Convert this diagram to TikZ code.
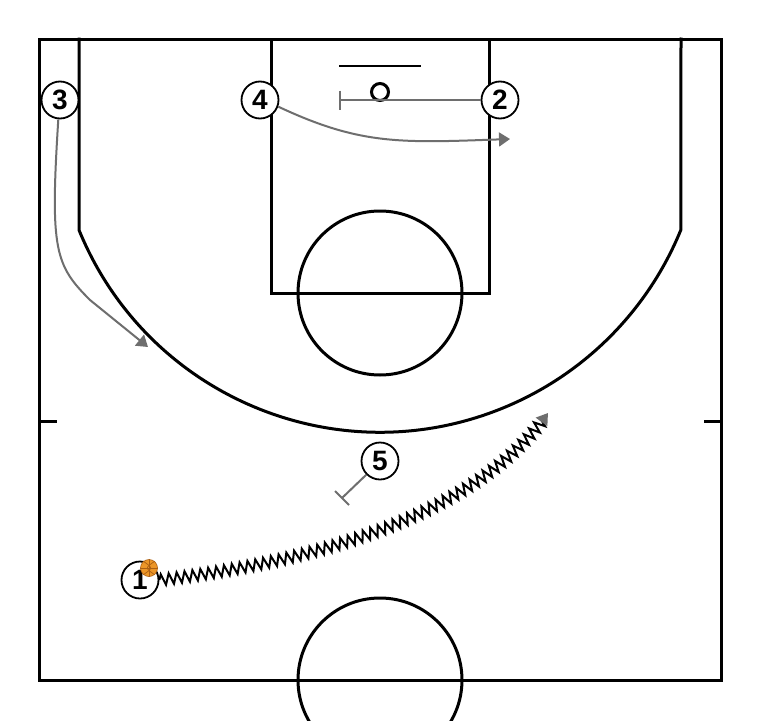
\documentclass[tikz,border=0pt]{standalone}
\usepackage{fontspec}
\setmainfont{Liberation Sans}
\usetikzlibrary{arrows.meta,decorations.pathmorphing}
\definecolor{mygray}{RGB}{110,110,110}
\definecolor{ballorange}{RGB}{236,150,40}
\definecolor{ballseam}{RGB}{170,95,20}
\tikzset{
  court/.style={line width=3pt, line cap=rect},
  player/.style={circle, draw, line width=1.8pt, fill=white, minimum size=37pt, inner sep=0pt,
    font=\fontsize{28}{30}\selectfont\bfseries},
  cut/.style={draw=mygray, line width=2pt, -{Triangle[length=11pt,width=14pt,color=mygray]}},
  screen/.style={draw=mygray, line width=2pt},
  dribble/.style={draw=black, line width=2pt,
    decoration={zigzag, segment length=8pt, amplitude=5.5pt, post length=10pt},
    decorate, -{Triangle[length=11pt,width=14pt,color=mygray]}},
}
\begin{document}
\begin{tikzpicture}[x=1pt,y=1pt]
\useasboundingbox (0,0) rectangle (760,-720);
\clip (0,0) rectangle (760,-720);
\fill[white] (0,0) rectangle (760,-720);
% court
\draw[court] (39,-39) rectangle (721,-680);
\draw[court] (39,-421) -- (55,-421);
\draw[court] (721,-421) -- (705,-421);
\draw[court] (79,-39) -- (79,-230) arc[start angle=202.2, end angle=337.8, radius=325] -- (681,-39);
\draw[court] (271,-39) rectangle (489,-293);
\draw[court] (380,-293) circle[radius=82];
\draw[court] (380,-680) circle[radius=82];
\draw[line width=2pt] (339,-66) -- (421,-66);
\draw[line width=3pt] (380,-92) circle[radius=8.5];
% players
\node[player] (p3) at (60,-100) {3};
\node[player] (p4) at (260,-100) {4};
\node[player] (p2) at (500,-100) {2};
\node[player] (p5) at (380,-461) {5};
\node[player] (p1) at (140,-580) {1};
% screens
\coordinate (s2) at (340,-100);
\draw[screen] (p2.west) -- (s2);
\draw[screen] ([yshift=9.5pt]s2) -- ([yshift=-9.5pt]s2);
\coordinate (s5) at (342,-498);
\draw[screen] (p5.225) -- (s5);
\draw[screen] ([shift={(-7,7)}]s5) -- ([shift={(7,-7)}]s5);
% cuts
\coordinate (e4) at (510,-139);
\draw[cut] (p4.-20) .. controls (360,-145) and (400,-143) .. (e4);
\coordinate (m3) at (90,-300);
\coordinate (e3) at (148,-347);
\draw[cut] (p3.-95) .. controls (50,-250) and (55,-265) .. (m3) -- (e3);
% dribble
\coordinate (e1) at (548,-413);
\draw[dribble] (p1.east) .. controls (330,-560) and (480,-510) .. (e1);
% ball
\node[circle, fill=ballorange, draw=ballseam, line width=0.6pt, minimum size=17pt, inner sep=0pt] (ball) at (149,-568) {};
\draw[ballseam, line width=0.7pt] (ball.north) -- (ball.south);
\draw[ballseam, line width=0.7pt] (ball.west) -- (ball.east);
\draw[ballseam, line width=0.7pt] (ball.130) .. controls ([xshift=4pt]ball.center) .. (ball.230);
\draw[ballseam, line width=0.7pt] (ball.50) .. controls ([xshift=-4pt]ball.center) .. (ball.-50);
\end{tikzpicture}
\end{document}
